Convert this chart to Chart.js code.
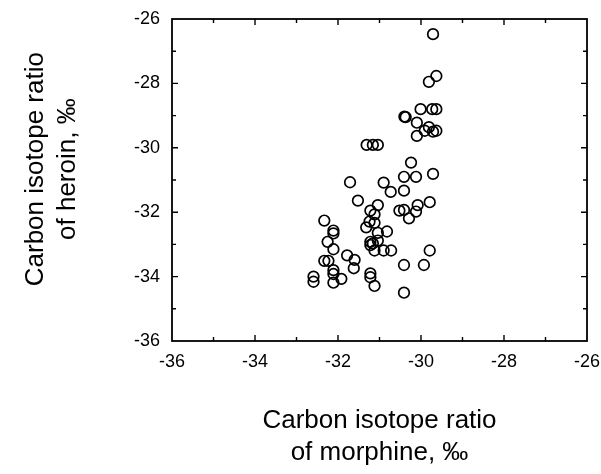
<!DOCTYPE html>
<html>
<head>
<meta charset="utf-8">
<script src="https://cdn.jsdelivr.net/npm/chart.js@4"></script>
<style>
  body { margin: 0; background: #fff; }
</style>
</head>
<body>
<canvas id="myChart" width="601" height="474"></canvas>
<script>
const MY_CHART = document.querySelector("#myChart");

// carbon isotope ratios
const morphine = [
  -29.71, -29.63, -29.81, -30.01, -29.73, -29.63, -30.40, -30.37, -30.10, -29.81,
  -29.91, -30.10, -29.71, -29.63, -31.31, -31.16, -31.04, -30.24, -31.71, -30.90,
  -30.41, -30.12, -29.71, -30.73, -30.41, -31.52, -31.04, -31.22, -31.12, -30.52,
  -30.41, -30.08, -29.79, -30.12, -30.29, -32.33, -31.24, -31.12, -31.32, -32.11,
  -32.11, -31.04, -30.82, -32.25, -31.22, -31.16, -31.04, -31.22, -32.11, -31.12,
  -30.90, -30.72, -29.79, -31.78, -32.33, -32.23, -31.60, -31.62, -32.11, -32.11,
  -31.22, -31.22, -30.41, -29.93, -32.59, -32.59, -31.92, -32.11, -31.12, -30.41
];
const heroin = [
  -26.47, -27.77, -27.95, -28.80, -28.80, -28.80, -29.03, -29.05, -29.22, -29.36,
  -29.47, -29.63, -29.50, -29.47, -29.91, -29.91, -29.91, -30.46, -31.07, -31.08,
  -30.90, -30.90, -30.81, -31.37, -31.33, -31.64, -31.78, -31.95, -32.07, -31.95,
  -31.93, -31.78, -31.69, -31.98, -32.19, -32.26, -32.29, -32.33, -32.47, -32.57,
  -32.66, -32.64, -32.60, -32.92, -32.92, -32.97, -32.88, -33.02, -33.15, -33.19,
  -33.19, -33.19, -33.19, -33.34, -33.51, -33.51, -33.48, -33.74, -33.80, -33.92,
  -33.90, -34.02, -33.64, -33.64, -34.00, -34.16, -34.07, -34.19, -34.29, -34.50
];
const AXIS_MIN = -36;
const AXIS_MAX = -26;
const xTitle = ["Carbon isotope ratio", "of morphine, \u2030"];
// leading spaces nudge the centred title a little up the axis, as in the original
const yTitle = ["   Carbon isotope ratio", "   of heroin, \u2030"];

const FONT = "'Liberation Sans', Arial, Helvetica, sans-serif";

// box round the plot with small inward ticks on every side
const frameTicks = {
  id: 'frameTicks',
  afterDraw(chart) {
    const {ctx, chartArea: a, scales: {x, y}} = chart;
    ctx.save();
    ctx.strokeStyle = '#000';
    ctx.lineWidth = 1.8;
    ctx.strokeRect(a.left, a.top, a.right - a.left, a.bottom - a.top);
    ctx.lineWidth = 1.4;
    ctx.beginPath();
    for (let v = AXIS_MIN + 1; v < AXIS_MAX; v++) {
      const len = v % 2 === 0 ? 6 : 4;
      const px = x.getPixelForValue(v);
      const py = y.getPixelForValue(v);
      ctx.moveTo(px, a.bottom); ctx.lineTo(px, a.bottom - len);
      ctx.moveTo(px, a.top); ctx.lineTo(px, a.top + len);
      ctx.moveTo(a.left, py); ctx.lineTo(a.left + len, py);
      ctx.moveTo(a.right, py); ctx.lineTo(a.right - len, py);
    }
    ctx.stroke();
    ctx.restore();
  }
};

const points = morphine.map((m, i) => ({x: m, y: heroin[i]}));

const data = {
  datasets: [{
    data: points,
    pointRadius: 5.3,
    pointBorderWidth: 1.7,
    pointBorderColor: '#000',
    pointBackgroundColor: 'rgba(255,255,255,0)',
    showLine: false
  }]
};

const CONFIG = {
  type: 'scatter',
  data: data,
  options: {
    responsive: false,
    animation: false,
    layout: { padding: { top: 19, right: 14, left: 0, bottom: 0 } },
    plugins: { legend: { display: false }, tooltip: { enabled: false } },
    scales: {
      x: {
        type: 'linear',
        min: AXIS_MIN, max: AXIS_MAX,
        grid: { display: false, drawTicks: false },
        border: { display: false },
        ticks: { stepSize: 2, padding: 10, color: '#000', font: { family: FONT, size: 18 } },
        title: { display: true, text: xTitle, color: '#000', padding: { top: 0, bottom: 5 },
                 font: { family: FONT, size: 26, lineHeight: 1.23 } },
        afterFit(scale) {
          scale.height = 133;
          scale.paddingLeft = 0;
          scale.paddingRight = 0;
        }
      },
      y: {
        type: 'linear',
        min: AXIS_MIN, max: AXIS_MAX,
        grid: { display: false, drawTicks: false },
        border: { display: false },
        ticks: { stepSize: 2, padding: 12, color: '#000', font: { family: FONT, size: 18 } },
        title: { display: true, text: yTitle, color: '#000', padding: { top: 20, bottom: 0 },
                 font: { family: FONT, size: 26, lineHeight: 1.23 } },
        afterFit(scale) {
          scale.width = 172;
          scale.paddingTop = 0;
          scale.paddingBottom = 0;
        }
      }
    }
  },
  plugins: [frameTicks]
};

new Chart(MY_CHART, CONFIG);
</script>
</body>
</html>
